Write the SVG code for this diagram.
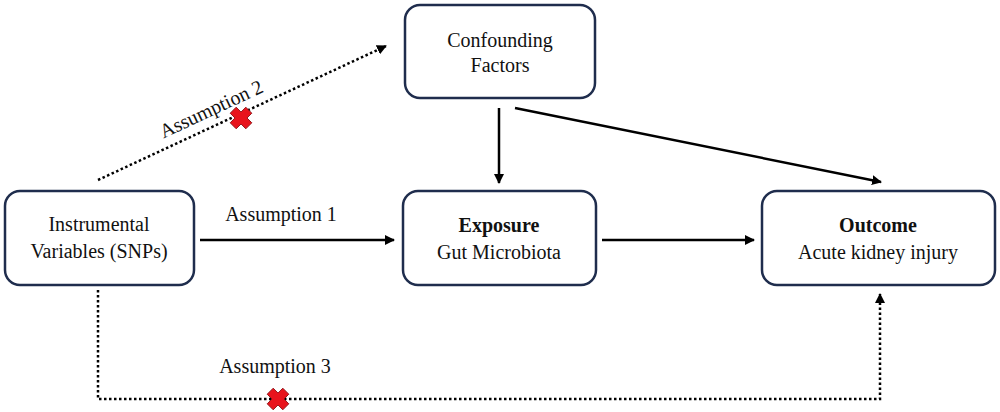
<svg xmlns="http://www.w3.org/2000/svg" width="1000" height="412" viewBox="0 0 1000 412">
<style>
.box{fill:#fff;stroke:#1f2d4d;stroke-width:2.5}
.t{font-family:"Liberation Serif","Times New Roman",serif;font-size:20px;fill:#111;text-anchor:middle}
.b{font-weight:bold}
.solid{fill:none;stroke:#000;stroke-width:2.5}
.dot{fill:none;stroke:#000;stroke-width:2.5;stroke-dasharray:2.5 2.5}
.x{fill:#e8141c;stroke:#8b1014;stroke-width:1}
</style>
<defs>
<marker id="ah" viewBox="0 0 10 10" refX="9" refY="5" markerWidth="4" markerHeight="4" orient="auto" markerUnits="strokeWidth">
<path d="M0,0 L10,5 L0,10 z" fill="#000"/>
</marker>
<g id="cross">
<polygon class="x" points="-5,-13 5,-13 5,-5 13,-5 13,5 5,5 5,13 -5,13 -5,5 -13,5 -13,-5 -5,-5" transform="rotate(45) scale(0.85)"/>
</g>
</defs>
<g id="connectors">
<line class="solid" x1="200" y1="240" x2="394" y2="240" marker-end="url(#ah)"/>
<line class="solid" x1="602" y1="240" x2="754" y2="240" marker-end="url(#ah)"/>
<line class="solid" x1="499" y1="108" x2="499" y2="183" marker-end="url(#ah)"/>
<line class="solid" x1="515" y1="108" x2="881" y2="182" marker-end="url(#ah)"/>
<line class="dot" x1="98" y1="180" x2="386" y2="46" marker-end="url(#ah)"/>
<polyline class="dot" points="98,290 98,399 880,399 880,294" marker-end="url(#ah)"/>
<text class="t" x="281" y="221">Assumption 1</text>
<text class="t" transform="translate(214,115) rotate(-25)">Assumption 2</text>
<text class="t" x="275" y="373">Assumption 3</text>
<use href="#cross" x="241" y="118"/>
<use href="#cross" x="278" y="399"/>
</g>
<g id="confounding">
<rect class="box" x="405" y="5" width="190" height="93" rx="15"/>
<text class="t" x="500" y="47">Confounding</text>
<text class="t" x="500" y="72">Factors</text>
</g>
<g id="instrumental">
<rect class="box" x="5" y="191" width="189" height="94" rx="15"/>
<text class="t" x="99" y="231">Instrumental</text>
<text class="t" x="99" y="258">Variables (SNPs)</text>
</g>
<g id="exposure">
<rect class="box" x="403" y="191" width="193" height="94" rx="15"/>
<text class="t b" x="499" y="232">Exposure</text>
<text class="t" x="499" y="259">Gut Microbiota</text>
</g>
<g id="outcome">
<rect class="box" x="762" y="191" width="233" height="94" rx="15"/>
<text class="t b" x="878" y="232">Outcome</text>
<text class="t" x="878" y="259">Acute kidney injury</text>
</g>
</svg>
